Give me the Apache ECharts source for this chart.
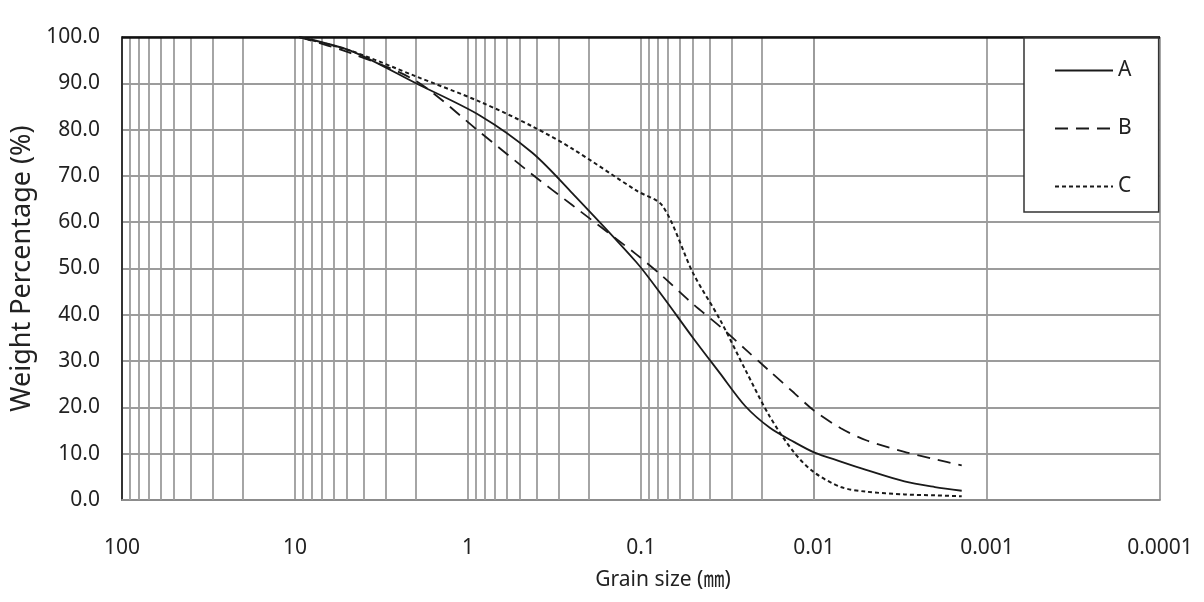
<!DOCTYPE html>
<html><head><meta charset="utf-8">
<script src="https://cdn.jsdelivr.net/npm/echarts@6/dist/echarts.min.js"></script>
<style>html,body{margin:0;padding:0;background:#fff}#c{width:1204px;height:602px}</style>
</head><body><div id="c"></div>
<script>
// Grain size (mm) and passing weight percentage for each sample
const grainSizes = [9.5, 4.75, 2, 0.85, 0.425, 0.25, 0.106, 0.075, 0.05, 0.035, 0.025, 0.018, 0.013, 0.01, 0.007, 0.005, 0.003, 0.002, 0.0014];
const passingA   = [100, 97, 90, 83, 75, 66.3, 51.3, 44, 35, 27.4, 20.3, 15.6, 12.5, 10.3, 8.3, 6.5, 4.0, 2.8, 2.0];
const passingB   = [100, 96.5, 90.5, 79.4, 70.3, 63.7, 53, 48.3, 42.3, 37.5, 32.6, 27.8, 23.1, 19.3, 15.5, 12.9, 10.4, 8.8, 7.5];
const passingC   = [100, 97, 91.5, 86, 80.7, 75.9, 66.8, 63.5, 49, 39, 28.2, 18, 10.2, 6, 2.8, 1.8, 1.2, 1.0, 0.8];
const seriesNames = ['A', 'B', 'C'];
const xTickLabels = ['100', '10', '1', '0.1', '0.01', '0.001', '0.0001'];
const decadeStarts = [0.0001, 0.001, 0.01, 0.1, 1, 10];
const minorMultipliers = [2, 3, 4, 5, 6, 7, 8, 9];

const FONT = "'Noto Sans', 'Noto Sans CJK KR', sans-serif";
const TXT = '#222';
const GRID = '#9c9c9c';
const GRID_W = 1.8;

const minorGrid = [];
decadeStarts.forEach(d => minorMultipliers.forEach(m => minorGrid.push({ xAxis: +(d * m).toPrecision(6) })));

function pairs(vals) { return grainSizes.map((g, i) => [g, vals[i]]); }

const chart = echarts.init(document.getElementById('c'), null, { renderer: 'canvas' });
chart.setOption({
  animation: false,
  backgroundColor: '#fff',
  grid: { left: 122, right: 44, top: 37, bottom: 102, containLabel: false },
  legend: {
    data: seriesNames,
    orient: 'vertical',
    left: 1024, top: 38,
    itemWidth: 58, itemHeight: 20, itemGap: 37,
    padding: [22, 27, 15, 30],
    backgroundColor: '#fff',
    borderColor: '#333', borderWidth: 1.5,
    itemStyle: { opacity: 0, borderWidth: 0 },
    textStyle: { fontSize: 21, color: TXT, fontFamily: FONT },
    z: 10
  },
  xAxis: {
    type: 'log', logBase: 10, min: 0.0001, max: 100, inverse: true, splitNumber: 6,
    name: 'Grain size (㎜)', nameLocation: 'middle', nameGap: 70,
    nameTextStyle: { fontSize: 21, color: TXT, fontFamily: FONT, padding: [0, 0, 0, 44] },
    axisLine: { show: true, lineStyle: { color: '#8c8c8c', width: 1.8 } },
    axisTick: { show: false },
    axisLabel: {
      fontSize: 21, color: TXT, fontFamily: FONT, margin: 38,
      formatter: v => xTickLabels[Math.round(2 - Math.log10(v))] || ''
    },
    splitLine: { show: true, lineStyle: { color: GRID, width: GRID_W } }
  },
  yAxis: {
    type: 'value', min: 0, max: 100, interval: 10,
    name: 'Weight Percentage (%)', nameLocation: 'middle', nameGap: 74,
    nameTextStyle: { fontSize: 27, color: TXT, fontFamily: FONT, verticalAlign: 'middle' },
    axisLine: { show: true, lineStyle: { color: '#333', width: 2 } },
    axisTick: { show: false },
    axisLabel: { fontSize: 21, color: TXT, fontFamily: FONT, margin: 22, formatter: v => v.toFixed(1) },
    splitLine: { show: true, lineStyle: { color: GRID, width: GRID_W } }
  },
  series: [
    {
      name: '_grid', type: 'line', data: [], silent: true, z: 1,
      markLine: {
        silent: true, animation: false, symbol: ['none', 'none'], label: { show: false }, z: 1,
        lineStyle: { color: GRID, width: GRID_W, type: 'solid' },
        emphasis: { disabled: true },
        data: minorGrid.concat([{ yAxis: 100, lineStyle: { color: '#111', width: 2.5, type: 'solid' } }])
      }
    },
    {
      name: 'A', type: 'line', data: pairs(passingA), symbol: 'none', smooth: 0.3, z: 3,
      lineStyle: { color: '#1a1a1a', width: 1.8, type: 'solid' }, itemStyle: { color: '#1a1a1a' }
    },
    {
      name: 'B', type: 'line', data: pairs(passingB), symbol: 'none', smooth: 0.3, z: 3,
      lineStyle: { color: '#1a1a1a', width: 1.8, type: [13, 8] }, itemStyle: { color: '#1a1a1a' }
    },
    {
      name: 'C', type: 'line', data: pairs(passingC), symbol: 'none', smooth: 0.3, z: 3,
      lineStyle: { color: '#1a1a1a', width: 2, type: [4, 3] }, itemStyle: { color: '#1a1a1a' }
    }
  ]
});
</script>
</body></html>
